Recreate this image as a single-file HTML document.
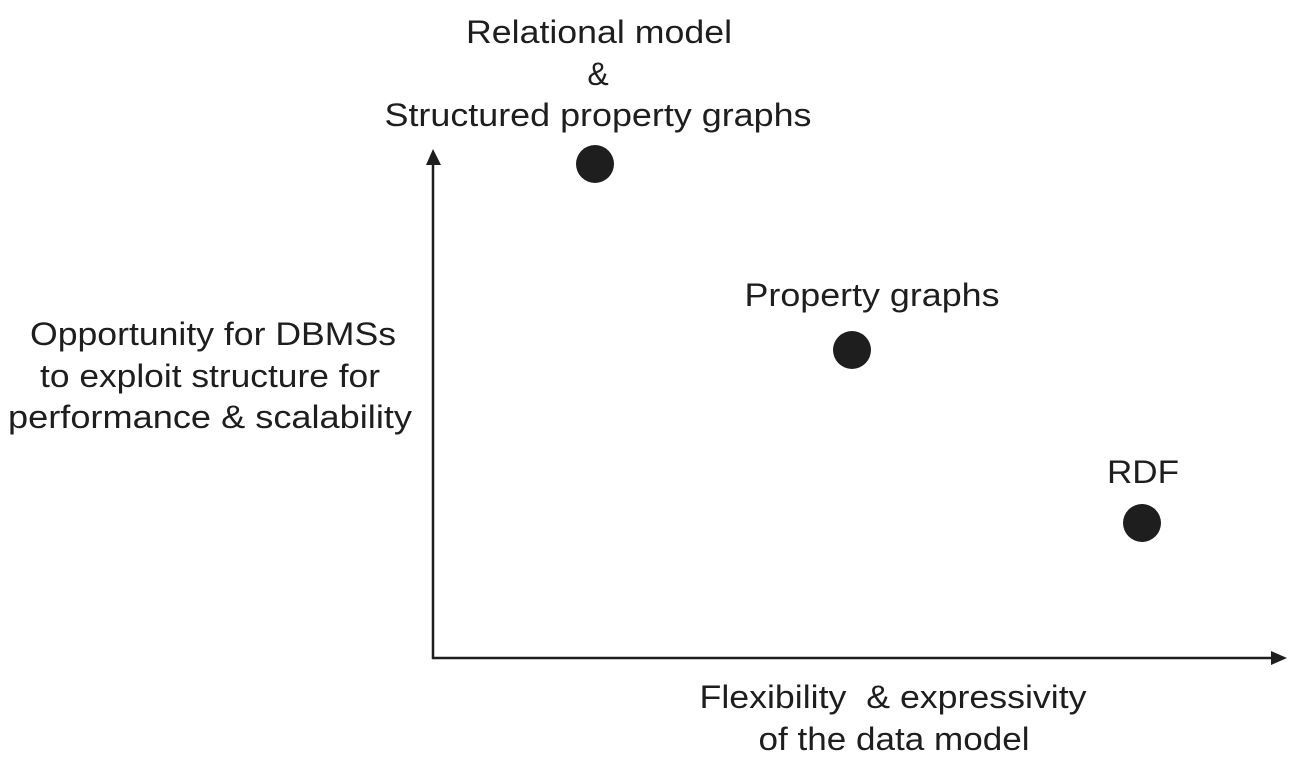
<!DOCTYPE html>
<html><head><meta charset="utf-8"><style>
html,body{margin:0;padding:0;background:#fff;}
svg{display:block}
text{font-family:"Liberation Sans",Arial,sans-serif;font-size:32px;fill:#1e1e1e;text-anchor:middle}
</style></head><body>
<svg width="1296" height="768" viewBox="0 0 1296 768">
<line x1="433" y1="160" x2="433" y2="659" stroke="#1e1e1e" stroke-width="2.5"/>
<polygon points="433,149 426,165 441,165" fill="#1e1e1e"/>
<line x1="432" y1="658" x2="1274" y2="658" stroke="#1e1e1e" stroke-width="2.5"/>
<polygon points="1287,658 1271,651 1271,665" fill="#1e1e1e"/>
<circle cx="595" cy="164" r="19" fill="#1e1e1e"/>
<circle cx="852" cy="350" r="19" fill="#1e1e1e"/>
<circle cx="1142" cy="523" r="19" fill="#1e1e1e"/>
<text x="599" y="43" textLength="266" lengthAdjust="spacingAndGlyphs">Relational model</text>
<text x="598" y="85">&amp;</text>
<text x="598" y="126" textLength="427" lengthAdjust="spacingAndGlyphs">Structured property graphs</text>
<text x="872" y="306" textLength="255" lengthAdjust="spacingAndGlyphs">Property graphs</text>
<text x="1143" y="483" textLength="72" lengthAdjust="spacingAndGlyphs">RDF</text>
<text x="213" y="345" textLength="366" lengthAdjust="spacingAndGlyphs">Opportunity for DBMSs</text>
<text x="210" y="387" textLength="340" lengthAdjust="spacingAndGlyphs">to exploit structure for</text>
<text x="210" y="428" textLength="404" lengthAdjust="spacingAndGlyphs">performance &amp; scalability</text>
<text x="893" y="708" textLength="387" lengthAdjust="spacingAndGlyphs" xml:space="preserve">Flexibility  &amp; expressivity</text>
<text x="894" y="750" textLength="271" lengthAdjust="spacingAndGlyphs">of the data model</text>
</svg>
</body></html>
